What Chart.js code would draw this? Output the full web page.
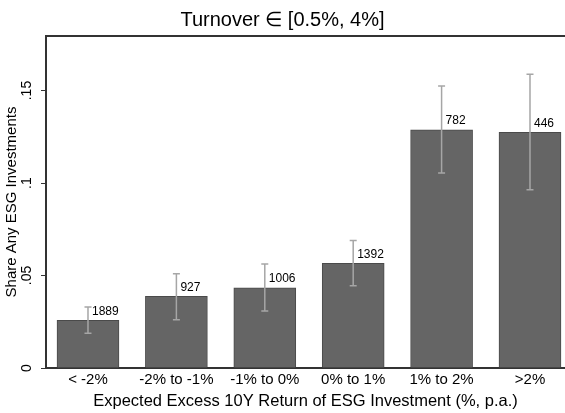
<!DOCTYPE html>
<html>
<head>
<meta charset="utf-8">
<script src="https://cdn.jsdelivr.net/npm/chart.js@4"></script>
<style>
  html, body { margin: 0; padding: 0; background: #fff; }
  #wrap { width: 565px; height: 413px; }
</style>
</head>
<body>
<div id="wrap"><canvas id="barcanvas" width="565" height="413"></canvas></div>
<script>
// data
var categories = ["< -2%", "-2% to -1%", "-1% to 0%", "0% to 1%", "1% to 2%", ">2%"];
var shares = [0.0258, 0.0388, 0.0434, 0.0566, 0.1288, 0.1274];
var ciLow = [0.0188, 0.0261, 0.0308, 0.0445, 0.1054, 0.0964];
var ciHigh = [0.0330, 0.0510, 0.0562, 0.0690, 0.1524, 0.1588];
var counts = [1889, 927, 1006, 1392, 782, 446];
var yTicks = [0, 0.05, 0.1, 0.15];

var font = "'Liberation Sans', Arial, sans-serif";

// error bars, count labels and top frame line
var extras = {
    id: "extras",
    afterDatasetsDraw: function(chart) {
        var ctx = chart.ctx;
        var xs = chart.scales.x, ys = chart.scales.y;
        var area = chart.chartArea;
        ctx.save();
        ctx.strokeStyle = "#333333";
        ctx.lineWidth = 2;
        ctx.beginPath();
        ctx.moveTo(area.left - 1, area.top);
        ctx.lineTo(area.right, area.top);
        ctx.stroke();

        ctx.strokeStyle = "#a6a6a6";
        ctx.lineWidth = 1.5;
        for (var i = 0; i < categories.length; i++) {
            var x = xs.getPixelForValue(i);
            var lo = ys.getPixelForValue(ciLow[i]);
            var hi = ys.getPixelForValue(ciHigh[i]);
            ctx.beginPath();
            ctx.moveTo(x, lo); ctx.lineTo(x, hi);
            ctx.moveTo(x - 3.5, lo); ctx.lineTo(x + 3.5, lo);
            ctx.moveTo(x - 3.5, hi); ctx.lineTo(x + 3.5, hi);
            ctx.stroke();
        }
        ctx.fillStyle = "#000";
        ctx.font = "12px " + font;
        ctx.textAlign = "left";
        ctx.textBaseline = "middle";
        for (var j = 0; j < categories.length; j++) {
            var bx = xs.getPixelForValue(j);
            var by = ys.getPixelForValue(shares[j]);
            ctx.fillText(String(counts[j]), bx + 4, by - 9);
        }
        ctx.restore();
    }
};

var ctx1 = document.getElementById("barcanvas");

var chartdata = {
    datasets: [{
        label: "Share Any ESG Investments",
        data: shares.map(function(v, i) { return { x: i, y: v }; }),
        backgroundColor: "#656565",
        borderColor: "#4a4a4a",
        borderWidth: 1,
        barThickness: 62
    }]
};

var options = {
    responsive: false,
    animation: false,
    layout: { padding: 0 },
    plugins: {
        legend: { display: false },
        tooltip: { enabled: false },
        title: {
            display: true,
            text: "Turnover \u2208 [0.5%, 4%]",
            color: "#000",
            font: { family: font, size: 20, weight: "normal" },
            padding: { top: 8, bottom: 4 }
        }
    },
    scales: {
        x: {
            type: "linear",
            offset: false,
            min: -0.475,
            max: 5.396,
            grid: { display: false },
            border: { display: true, color: "#333333", width: 2 },
            afterBuildTicks: function(s) {
                s.ticks = categories.map(function(c, i) { return { value: i }; });
            },
            afterFit: function(s) { s.height = 45; },
            ticks: {
                color: "#000",
                padding: -5,
                maxRotation: 0,
                autoSkip: false,
                font: { family: font, size: 15 },
                callback: function(v) { return categories[v]; }
            },
            title: {
                display: true,
                text: "Expected Excess 10Y Return of ESG Investment (%, p.a.)",
                color: "#000",
                font: { family: font, size: 16.5 },
                padding: { top: 0, bottom: 2 }
            }
        },
        y: {
            min: 0,
            max: 0.1795,
            grid: {
                display: true,
                drawOnChartArea: false,
                drawTicks: true,
                tickLength: 5,
                color: "#333333"
            },
            border: { display: true, color: "#333333", width: 2 },
            afterBuildTicks: function(s) {
                s.ticks = yTicks.map(function(v) { return { value: v }; });
            },
            afterFit: function(s) { s.width = 46; },
            ticks: {
                color: "#000",
                minRotation: 90,
                maxRotation: 90,
                crossAlign: "center",
                padding: 4,
                font: { family: font, size: 14 },
                callback: function(v) { return v === 0 ? "0" : String(v).replace("0.", "."); }
            },
            title: {
                display: true,
                text: "Share Any ESG Investments",
                color: "#000",
                font: { family: font, size: 15 },
                padding: { top: 3, bottom: 0 }
            }
        }
    }
};

var barGraph = new Chart(ctx1, {
    type: "bar",
    data: chartdata,
    options: options,
    plugins: [extras]
});
</script>
</body>
</html>
